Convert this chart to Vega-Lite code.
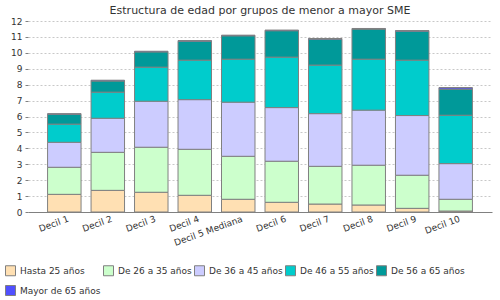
{
  "$schema": "https://vega.github.io/schema/vega-lite/v6.json",
  "width": 464,
  "height": 191,
  "autosize": {"type": "none"},
  "padding": {"left": 28, "top": 21, "right": 8, "bottom": 88},
  "background": "white",
  "title": {"text": "Estructura de edad por grupos de menor a mayor SME", "font": "DejaVu Sans", "fontSize": 11, "fontWeight": "normal", "color": "#333333", "anchor": "middle", "offset": 1, "frame": "group"},
  "config": {"view": {"stroke": null}, "font": "DejaVu Sans"},
  "data": {"values": [
    {"decil": "Decil 1", "grupo": "Hasta 25 años", "valor": 1.11},
    {"decil": "Decil 1", "grupo": "De 26 a 35 años", "valor": 1.70},
    {"decil": "Decil 1", "grupo": "De 36 a 45 años", "valor": 1.57},
    {"decil": "Decil 1", "grupo": "De 46 a 55 años", "valor": 1.14},
    {"decil": "Decil 1", "grupo": "De 56 a 65 años", "valor": 0.62},
    {"decil": "Decil 1", "grupo": "Mayor de 65 años", "valor": 0.04},
    {"decil": "Decil 2", "grupo": "Hasta 25 años", "valor": 1.36},
    {"decil": "Decil 2", "grupo": "De 26 a 35 años", "valor": 2.39},
    {"decil": "Decil 2", "grupo": "De 36 a 45 años", "valor": 2.14},
    {"decil": "Decil 2", "grupo": "De 46 a 55 años", "valor": 1.64},
    {"decil": "Decil 2", "grupo": "De 56 a 65 años", "valor": 0.70},
    {"decil": "Decil 2", "grupo": "Mayor de 65 años", "valor": 0.05},
    {"decil": "Decil 3", "grupo": "Hasta 25 años", "valor": 1.24},
    {"decil": "Decil 3", "grupo": "De 26 a 35 años", "valor": 2.83},
    {"decil": "Decil 3", "grupo": "De 36 a 45 años", "valor": 2.89},
    {"decil": "Decil 3", "grupo": "De 46 a 55 años", "valor": 2.14},
    {"decil": "Decil 3", "grupo": "De 56 a 65 años", "valor": 0.96},
    {"decil": "Decil 3", "grupo": "Mayor de 65 años", "valor": 0.04},
    {"decil": "Decil 4", "grupo": "Hasta 25 años", "valor": 1.05},
    {"decil": "Decil 4", "grupo": "De 26 a 35 años", "valor": 2.89},
    {"decil": "Decil 4", "grupo": "De 36 a 45 años", "valor": 3.12},
    {"decil": "Decil 4", "grupo": "De 46 a 55 años", "valor": 2.48},
    {"decil": "Decil 4", "grupo": "De 56 a 65 años", "valor": 1.19},
    {"decil": "Decil 4", "grupo": "Mayor de 65 años", "valor": 0.04},
    {"decil": "Decil 5 Mediana", "grupo": "Hasta 25 años", "valor": 0.80},
    {"decil": "Decil 5 Mediana", "grupo": "De 26 a 35 años", "valor": 2.70},
    {"decil": "Decil 5 Mediana", "grupo": "De 36 a 45 años", "valor": 3.40},
    {"decil": "Decil 5 Mediana", "grupo": "De 46 a 55 años", "valor": 2.70},
    {"decil": "Decil 5 Mediana", "grupo": "De 56 a 65 años", "valor": 1.47},
    {"decil": "Decil 5 Mediana", "grupo": "Mayor de 65 años", "valor": 0.04},
    {"decil": "Decil 6", "grupo": "Hasta 25 años", "valor": 0.61},
    {"decil": "Decil 6", "grupo": "De 26 a 35 años", "valor": 2.58},
    {"decil": "Decil 6", "grupo": "De 36 a 45 años", "valor": 3.37},
    {"decil": "Decil 6", "grupo": "De 46 a 55 años", "valor": 3.17},
    {"decil": "Decil 6", "grupo": "De 56 a 65 años", "valor": 1.66},
    {"decil": "Decil 6", "grupo": "Mayor de 65 años", "valor": 0.04},
    {"decil": "Decil 7", "grupo": "Hasta 25 años", "valor": 0.50},
    {"decil": "Decil 7", "grupo": "De 26 a 35 años", "valor": 2.37},
    {"decil": "Decil 7", "grupo": "De 36 a 45 años", "valor": 3.31},
    {"decil": "Decil 7", "grupo": "De 46 a 55 años", "valor": 3.05},
    {"decil": "Decil 7", "grupo": "De 56 a 65 años", "valor": 1.63},
    {"decil": "Decil 7", "grupo": "Mayor de 65 años", "valor": 0.04},
    {"decil": "Decil 8", "grupo": "Hasta 25 años", "valor": 0.44},
    {"decil": "Decil 8", "grupo": "De 26 a 35 años", "valor": 2.50},
    {"decil": "Decil 8", "grupo": "De 36 a 45 años", "valor": 3.46},
    {"decil": "Decil 8", "grupo": "De 46 a 55 años", "valor": 3.20},
    {"decil": "Decil 8", "grupo": "De 56 a 65 años", "valor": 1.89},
    {"decil": "Decil 8", "grupo": "Mayor de 65 años", "valor": 0.04},
    {"decil": "Decil 9", "grupo": "Hasta 25 años", "valor": 0.23},
    {"decil": "Decil 9", "grupo": "De 26 a 35 años", "valor": 2.08},
    {"decil": "Decil 9", "grupo": "De 36 a 45 años", "valor": 3.75},
    {"decil": "Decil 9", "grupo": "De 46 a 55 años", "valor": 3.48},
    {"decil": "Decil 9", "grupo": "De 56 a 65 años", "valor": 1.82},
    {"decil": "Decil 9", "grupo": "Mayor de 65 años", "valor": 0.04},
    {"decil": "Decil 10", "grupo": "Hasta 25 años", "valor": 0.06},
    {"decil": "Decil 10", "grupo": "De 26 a 35 años", "valor": 0.74},
    {"decil": "Decil 10", "grupo": "De 36 a 45 años", "valor": 2.24},
    {"decil": "Decil 10", "grupo": "De 46 a 55 años", "valor": 3.04},
    {"decil": "Decil 10", "grupo": "De 56 a 65 años", "valor": 1.64},
    {"decil": "Decil 10", "grupo": "Mayor de 65 años", "valor": 0.10}
  ]},
  "transform": [
    {"calculate": "indexof(['Hasta 25 años','De 26 a 35 años','De 36 a 45 años','De 46 a 55 años','De 56 a 65 años','Mayor de 65 años'], datum.grupo)", "as": "orden"}
  ],
  "mark": {"type": "bar", "stroke": "#808080", "strokeWidth": 1},
  "encoding": {
    "x": {
      "field": "decil", "type": "nominal", "sort": null,
      "scale": {"paddingInner": 0.23, "paddingOuter": 0.45},
      "axis": {"title": null, "labelAngle": -20, "labelAlign": "right", "labelBaseline": "middle", "labelFontSize": 9, "labelColor": "#333333", "labelPadding": 6, "labelOffset": 4, "domainColor": "#808080", "ticks": false, "labelOverlap": false, "labelFont": "DejaVu Sans"}
    },
    "y": {
      "field": "valor", "type": "quantitative", "stack": "zero",
      "scale": {"domain": [0, 12], "nice": false},
      "axis": {"title": null, "values": [0,1,2,3,4,5,6,7,8,9,10,11,12], "labelFontSize": 9, "labelColor": "#333333", "domain": false, "tickColor": "#808080", "tickSize": 3, "labelPadding": 3, "gridColor": "#c8c8c8", "gridDash": [2, 2], "labelFont": "DejaVu Sans"}
    },
    "color": {
      "field": "grupo", "type": "nominal",
      "scale": {
        "domain": ["Hasta 25 años", "De 26 a 35 años", "De 36 a 45 años", "De 46 a 55 años", "De 56 a 65 años", "Mayor de 65 años"],
        "range": ["#FFE0B3", "#CCFFCC", "#CCCCFF", "#00CCCC", "#009999", "#5050FF"]
      },
      "legend": {"title": null, "orient": "none", "legendX": -23, "legendY": 244, "direction": "horizontal", "columns": 5, "columnPadding": 0, "rowPadding": 5, "symbolType": "square", "symbolSize": 100, "symbolStrokeColor": "#808080", "symbolStrokeWidth": 1, "labelFontSize": 9, "labelOffset": 4, "labelColor": "#333333", "labelFont": "DejaVu Sans", "symbolOpacity": 1}
    },
    "order": {"field": "orden", "type": "quantitative"}
  }
}
